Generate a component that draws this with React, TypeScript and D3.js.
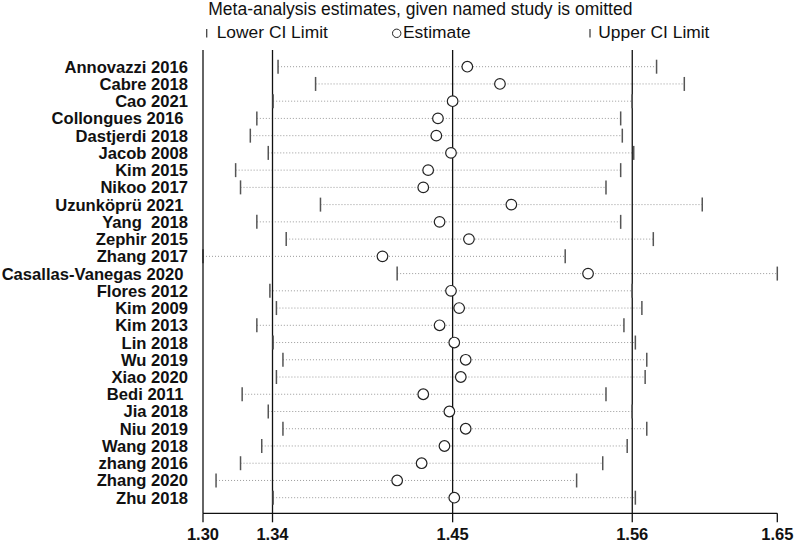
import * as d3 from 'd3';

// omitted study
const studies = [
  'Annovazzi 2016', 'Cabre 2018', 'Cao 2021', 'Collongues 2016 ', 'Dastjerdi 2018',
  'Jacob 2008', 'Kim 2015', 'Nikoo 2017', 'Uzunköprü 2021 ', 'Yang  2018',
  'Zephir 2015', 'Zhang 2017', 'Casallas-Vanegas 2020 ', 'Flores 2012', 'Kim 2009',
  'Kim 2013', 'Lin 2018', 'Wu 2019', 'Xiao 2020', 'Bedi 2011 ',
  'Jia 2018', 'Niu 2019', 'Wang 2018', 'zhang 2016', 'Zhang 2020', 'Zhu 2018',
];

const estimates = [
  1.459, 1.479, 1.450, 1.441, 1.440, 1.449, 1.435, 1.432, 1.486, 1.442,
  1.460, 1.407, 1.533, 1.449, 1.454, 1.442, 1.451, 1.458, 1.455, 1.432,
  1.448, 1.458, 1.445, 1.431, 1.416, 1.451,
];

const lowerCI = [
  1.343, 1.366, 1.340, 1.330, 1.326, 1.337, 1.317, 1.320, 1.369, 1.330,
  1.348, 1.297, 1.416, 1.338, 1.342, 1.330, 1.340, 1.346, 1.342, 1.321,
  1.337, 1.346, 1.333, 1.320, 1.305, 1.340,
];

const upperCI = [
  1.575, 1.592, 1.560, 1.553, 1.554, 1.561, 1.553, 1.544, 1.603, 1.553,
  1.573, 1.519, 1.649, 1.560, 1.566, 1.555, 1.562, 1.569, 1.568, 1.544,
  1.560, 1.569, 1.557, 1.542, 1.526, 1.562,
];

// pooled estimate with all studies
const overall = [1.3396, 1.450, 1.5601];

const titleText = 'Meta-analysis estimates, given named study is omitted';
const legendLabels = ['Lower CI Limit', 'Estimate', 'Upper CI Limit'];

const font = '"Liberation Sans", Arial, sans-serif';

export default function App() {
  const top = 50;
  const axisY = 513.3;

  const minV = d3.min(lowerCI) as number;
  const maxV = d3.max(upperCI) as number;

  const x = d3.scaleLinear().domain([minV, maxV]).range([203, 777.3]);
  const y = d3.scalePoint<string>().domain(studies).range([66.7, 497.7]);

  const tickVals = [minV, overall[0], overall[1], overall[2], maxV];
  const fmt = d3.format('.2f');

  return (
    <svg width={800} height={542} style={{ position: 'absolute', left: 0, top: 0, background: '#fff' }}>
      <rect width={800} height={542} fill="#fff" />

      {/* title + legend */}
      <text x={208.3} y={15} fontFamily={font} fontSize={17.5} fill="#111">{titleText}</text>
      <line x1={206.7} x2={206.7} y1={29} y2={37.5} stroke="#444" strokeWidth={1.3} />
      <text x={216.7} y={38.3} fontFamily={font} fontSize={17.4} fill="#111">{legendLabels[0]}</text>
      <circle cx={396.7} cy={33.3} r={4.2} fill="#fff" stroke="#222" strokeWidth={1} />
      <text x={403} y={38.3} fontFamily={font} fontSize={17.4} fill="#111">{legendLabels[1]}</text>
      <line x1={590} x2={590} y1={29} y2={37.5} stroke="#444" strokeWidth={1.3} />
      <text x={598.3} y={38.3} fontFamily={font} fontSize={17.4} fill="#111">{legendLabels[2]}</text>

      {/* dotted CI spans */}
      {studies.map((s, i) => (
        <line key={'d' + i} x1={x(lowerCI[i])} x2={x(upperCI[i])} y1={y(s)} y2={y(s)}
          stroke="#9a9a9a" strokeWidth={1} strokeDasharray="1 2" />
      ))}

      {/* reference lines for the pooled estimate and its CI */}
      {overall.map((v, i) => (
        <line key={'r' + i} x1={x(v)} x2={x(v)} y1={top} y2={axisY} stroke="#111" strokeWidth={1.3} />
      ))}

      {/* CI limit ticks */}
      {studies.map((s, i) => (
        <g key={'t' + i}>
          <line x1={x(lowerCI[i])} x2={x(lowerCI[i])} y1={(y(s) as number) - 7} y2={(y(s) as number) + 7}
            stroke="#555" strokeWidth={1.5} />
          <line x1={x(upperCI[i])} x2={x(upperCI[i])} y1={(y(s) as number) - 7} y2={(y(s) as number) + 7}
            stroke="#555" strokeWidth={1.5} />
        </g>
      ))}

      {/* estimates */}
      {studies.map((s, i) => (
        <circle key={'c' + i} cx={x(estimates[i])} cy={y(s)} r={5.3} fill="#fff" stroke="#222" strokeWidth={1.2} />
      ))}

      {/* study labels */}
      {studies.map((s) => (
        <text key={'l' + s} x={188} y={y(s)} dy="0.36em" textAnchor="end" fontFamily={font}
          fontSize={16.6} fontWeight="bold" fill="#111" style={{ whiteSpace: 'pre' }}>{s}</text>
      ))}

      {/* axes */}
      <line x1={203} x2={203} y1={top} y2={axisY} stroke="#111" strokeWidth={1.3} />
      <line x1={203} x2={x(maxV)} y1={axisY} y2={axisY} stroke="#111" strokeWidth={1.3} />
      {tickVals.map((v, i) => (
        <g key={'x' + i}>
          <line x1={x(v)} x2={x(v)} y1={axisY} y2={axisY + 9} stroke="#111" strokeWidth={1.3} />
          <text x={x(v)} y={540} textAnchor="middle" fontFamily={font} fontSize={16.5}
            fontWeight="bold" fill="#111">{fmt(v)}</text>
        </g>
      ))}
    </svg>
  );
}
